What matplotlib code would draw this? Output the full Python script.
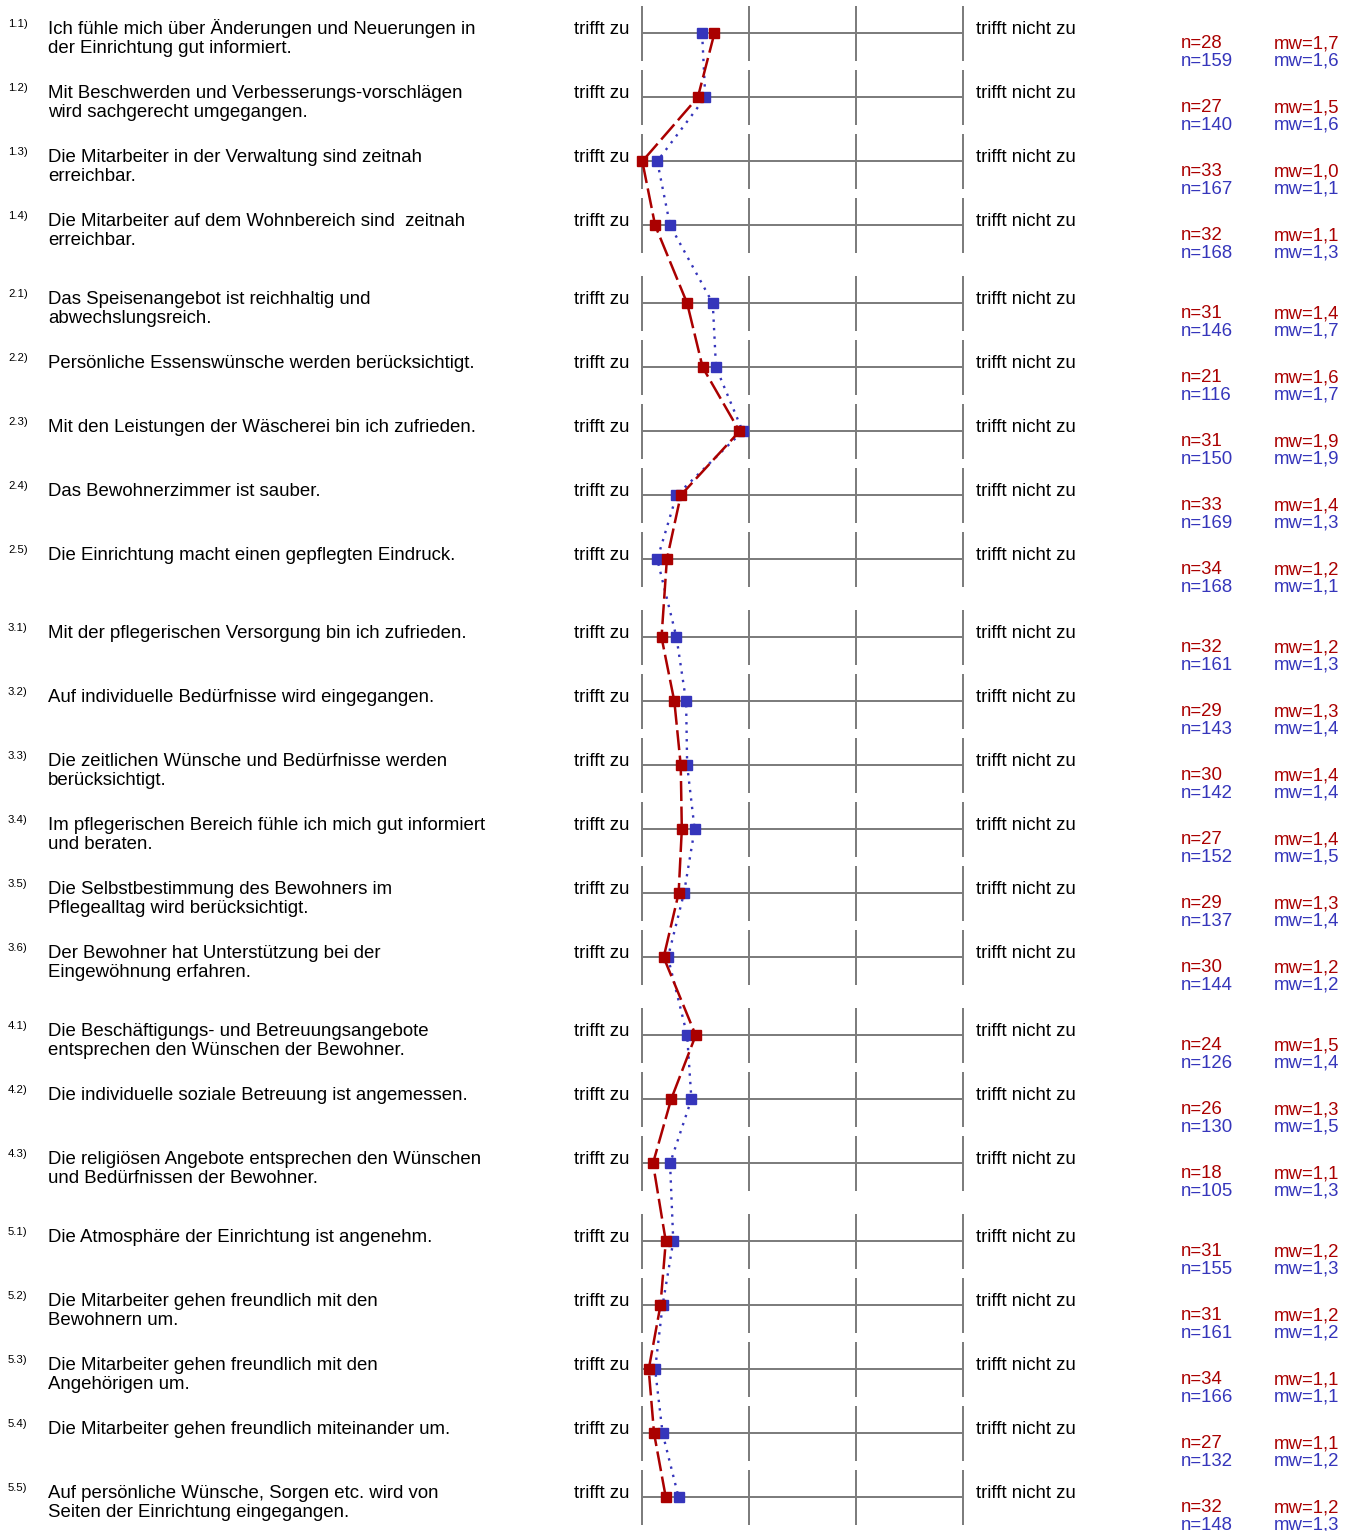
import matplotlib
matplotlib.use('Agg')
import matplotlib.pyplot as plt

# item numbers and question texts (line breaks as in the original form)
nums = ['1.1', '1.2', '1.3', '1.4',
        '2.1', '2.2', '2.3', '2.4', '2.5',
        '3.1', '3.2', '3.3', '3.4', '3.5', '3.6',
        '4.1', '4.2', '4.3',
        '5.1', '5.2', '5.3', '5.4', '5.5']
questions = [
    'Ich fühle mich über Änderungen und Neuerungen in\nder Einrichtung gut informiert.',
    'Mit Beschwerden und Verbesserungs-vorschlägen\nwird sachgerecht umgegangen.',
    'Die Mitarbeiter in der Verwaltung sind zeitnah\nerreichbar.',
    'Die Mitarbeiter auf dem Wohnbereich sind  zeitnah\nerreichbar.',
    'Das Speisenangebot ist reichhaltig und\nabwechslungsreich.',
    'Persönliche Essenswünsche werden berücksichtigt.',
    'Mit den Leistungen der Wäscherei bin ich zufrieden.',
    'Das Bewohnerzimmer ist sauber.',
    'Die Einrichtung macht einen gepflegten Eindruck.',
    'Mit der pflegerischen Versorgung bin ich zufrieden.',
    'Auf individuelle Bedürfnisse wird eingegangen.',
    'Die zeitlichen Wünsche und Bedürfnisse werden\nberücksichtigt.',
    'Im pflegerischen Bereich fühle ich mich gut informiert\nund beraten.',
    'Die Selbstbestimmung des Bewohners im\nPflegealltag wird berücksichtigt.',
    'Der Bewohner hat Unterstützung bei der\nEingewöhnung erfahren.',
    'Die Beschäftigungs- und Betreuungsangebote\nentsprechen den Wünschen der Bewohner.',
    'Die individuelle soziale Betreuung ist angemessen.',
    'Die religiösen Angebote entsprechen den Wünschen\nund Bedürfnissen der Bewohner.',
    'Die Atmosphäre der Einrichtung ist angenehm.',
    'Die Mitarbeiter gehen freundlich mit den\nBewohnern um.',
    'Die Mitarbeiter gehen freundlich mit den\nAngehörigen um.',
    'Die Mitarbeiter gehen freundlich miteinander um.',
    'Auf persönliche Wünsche, Sorgen etc. wird von\nSeiten der Einrichtung eingegangen.',
]

# means (marker positions, scale 1 = trifft zu ... 4 = trifft nicht zu)
mean_red = [1.675, 1.52, 1.0, 1.12, 1.42, 1.565, 1.91, 1.36, 1.23, 1.18, 1.30, 1.36,
            1.37, 1.34, 1.20, 1.50, 1.27, 1.10, 1.22, 1.17, 1.06, 1.11, 1.22]
mean_blue = [1.56, 1.59, 1.14, 1.26, 1.66, 1.69, 1.94, 1.32, 1.14, 1.32, 1.41, 1.42,
             1.49, 1.39, 1.24, 1.42, 1.46, 1.26, 1.29, 1.19, 1.12, 1.19, 1.34]

n_red = [28, 27, 33, 32, 31, 21, 31, 33, 34, 32, 29, 30, 27, 29, 30, 24, 26, 18, 31, 31, 34, 27, 32]
n_blue = [159, 140, 167, 168, 146, 116, 150, 169, 168, 161, 143, 142, 152, 137, 144, 126,
          130, 105, 155, 161, 166, 132, 148]
mw_red = ['1,7', '1,5', '1,0', '1,1', '1,4', '1,6', '1,9', '1,4', '1,2', '1,2', '1,3', '1,4',
          '1,4', '1,3', '1,2', '1,5', '1,3', '1,1', '1,2', '1,2', '1,1', '1,1', '1,2']
mw_blue = ['1,6', '1,6', '1,1', '1,3', '1,7', '1,7', '1,9', '1,3', '1,1', '1,3', '1,4', '1,4',
           '1,5', '1,4', '1,2', '1,4', '1,5', '1,3', '1,3', '1,2', '1,1', '1,2', '1,3']

RED = '#aa0000'
BLUE = '#3535bb'
GREY = '#7a7a7a'
plt.rcParams['font.family'] = ['Liberation Sans', 'DejaVu Sans']

W, H = 1353, 1531
fig = plt.figure(figsize=(W / 100, H / 100), dpi=100)

# row positions: fixed step, a bit more space between question groups
ys = []
y = 33.3
prev = None
for num in nums:
    grp = num.split('.')[0]
    if prev is not None:
        y += 64 + (14 if grp != prev else 0)
    ys.append(y)
    prev = grp

# text layer in pixel coordinates
txt = fig.add_axes([0, 0, 1, 1])
txt.set_xlim(0, W)
txt.set_ylim(H, 0)
txt.axis('off')

# scale layer
ax = fig.add_axes([642.3 / W, 0, 320.4 / W, 1])
ax.set_xlim(1, 4)
ax.set_ylim(H, 0)
ax.axis('off')

for y in ys:
    ax.hlines(y, 1, 4, color=GREY, lw=1.4, clip_on=False)
    ax.vlines([1, 2, 3, 4], y - 27.7, y + 28, color=GREY, lw=1.4, clip_on=False)

ax.plot(mean_blue, ys, color=BLUE, ls=(0, (1, 2.6)), lw=1.7, marker='s', ms=7,
        clip_on=False, zorder=3)
ax.plot(mean_red, ys, color=RED, ls=(0, (8, 2.2)), lw=1.8, marker='s', ms=7,
        clip_on=False, zorder=4)

fs = 13.4
for i, y in enumerate(ys):
    txt.text(8, y - 6, nums[i] + ')', fontsize=8.2, va='baseline')
    for k, line in enumerate(questions[i].split('\n')):
        txt.text(48, y + 0.5 + k * 19, line, fontsize=fs, va='baseline')
    txt.text(574, y + 0.5, 'trifft zu', fontsize=fs, va='baseline')
    txt.text(976, y + 0.5, 'trifft nicht zu', fontsize=fs, va='baseline')
    txt.text(1181, y + 15, 'n=%d' % n_red[i], fontsize=fs, va='baseline', color=RED)
    txt.text(1181, y + 32.5, 'n=%d' % n_blue[i], fontsize=fs, va='baseline', color=BLUE)
    txt.text(1274, y + 15, 'mw=' + mw_red[i], fontsize=fs, va='baseline', color=RED)
    txt.text(1274, y + 32.5, 'mw=' + mw_blue[i], fontsize=fs, va='baseline', color=BLUE)

fig.savefig('out.png', dpi=100)
